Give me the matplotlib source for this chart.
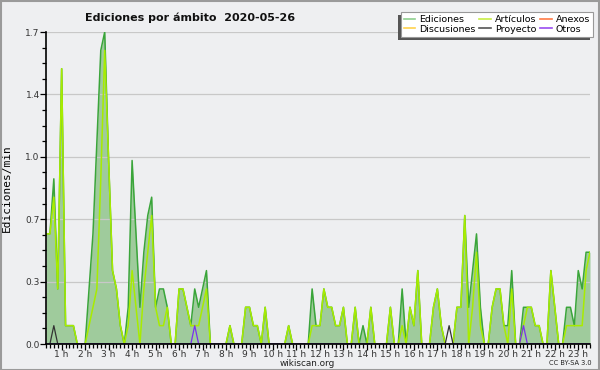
import numpy as np
import matplotlib
matplotlib.use("Agg")
import matplotlib.pyplot as plt
from matplotlib.patches import Rectangle
from matplotlib.lines import Line2D
from matplotlib.ticker import FixedLocator, FuncFormatter

# ---- data (edits per minute, 10-minute bins starting 00:20) ----
start_hour = 20 / 60
bin_minutes = 10

ediciones = [
    0.6, 0.6, 0.9, 0.3, 1.5, 0.1, 0.1, 0.1, 0, 0,
    0, 0.3, 0.6, 1.1, 1.6, 1.7, 1.0, 0.4, 0.3, 0.1,
    0, 0.2, 1.0, 0.6, 0.2, 0.5, 0.7, 0.8, 0.2, 0.3,
    0.3, 0.2, 0, 0, 0.3, 0.3, 0.2, 0.1, 0.3, 0.2,
    0.3, 0.4, 0, 0, 0, 0, 0, 0.1, 0, 0,
    0, 0.2, 0.2, 0.1, 0.1, 0, 0.2, 0, 0, 0,
    0, 0, 0.1, 0, 0, 0, 0, 0, 0.3, 0.1,
    0.1, 0.3, 0.2, 0.2, 0.1, 0.1, 0.2, 0, 0, 0.2,
    0, 0.1, 0, 0.2, 0, 0, 0, 0, 0.2, 0,
    0, 0.3, 0, 0.2, 0.1, 0.4, 0, 0, 0, 0.2,
    0.3, 0.1, 0, 0, 0, 0.2, 0.2, 0.7, 0.2, 0.4,
    0.6, 0.2, 0, 0, 0.2, 0.3, 0.3, 0.1, 0.1, 0.4,
    0, 0, 0.2, 0.2, 0.2, 0.1, 0.1, 0, 0, 0.4,
    0.2, 0, 0, 0.2, 0.2, 0.1, 0.4, 0.3, 0.5, 0.5,
]

articulos = [
    0.6, 0.6, 0.8, 0.3, 1.5, 0.1, 0.1, 0.1, 0, 0,
    0, 0.1, 0.2, 0.3, 0.9, 1.6, 1.0, 0.4, 0.3, 0.1,
    0, 0.1, 0.4, 0.2, 0, 0.3, 0.5, 0.7, 0.2, 0.1,
    0.1, 0.2, 0, 0, 0.3, 0.3, 0.2, 0.1, 0.1, 0.1,
    0.2, 0.3, 0, 0, 0, 0, 0, 0.1, 0, 0,
    0, 0.2, 0.2, 0.1, 0.1, 0, 0.2, 0, 0, 0,
    0, 0, 0.1, 0, 0, 0, 0, 0, 0.1, 0.1,
    0.1, 0.3, 0.2, 0.2, 0.1, 0.1, 0.2, 0, 0, 0.2,
    0, 0, 0, 0.2, 0, 0, 0, 0, 0.2, 0,
    0, 0.1, 0, 0.2, 0.1, 0.4, 0, 0, 0, 0.2,
    0.3, 0.1, 0, 0, 0, 0.2, 0.2, 0.7, 0, 0.2,
    0.5, 0.1, 0, 0, 0.2, 0.3, 0.3, 0.1, 0, 0.3,
    0, 0, 0.1, 0.2, 0.2, 0.1, 0.1, 0, 0, 0.4,
    0.2, 0, 0, 0.1, 0.1, 0.1, 0.1, 0.1, 0.4, 0.5,
]

proyecto = [
    0, 0, 0.1, 0, 0, 0, 0, 0, 0, 0,
    0, 0, 0, 0, 0, 0, 0, 0, 0, 0,
    0, 0, 0, 0, 0, 0, 0, 0, 0, 0,
    0, 0, 0, 0, 0, 0, 0, 0, 0, 0,
    0, 0, 0, 0, 0, 0, 0, 0, 0, 0,
    0, 0, 0, 0, 0, 0, 0, 0, 0, 0,
    0, 0, 0, 0, 0, 0, 0, 0, 0, 0,
    0, 0, 0, 0, 0, 0, 0, 0, 0, 0,
    0, 0, 0, 0, 0, 0, 0, 0, 0, 0,
    0, 0, 0, 0, 0, 0, 0, 0, 0, 0,
    0, 0, 0, 0.1, 0, 0, 0, 0, 0, 0,
    0, 0, 0, 0, 0, 0, 0, 0, 0, 0,
    0, 0, 0, 0, 0, 0, 0, 0, 0, 0,
    0, 0, 0, 0, 0, 0, 0, 0, 0, 0,
]

otros = [
    0, 0, 0, 0, 0, 0, 0, 0, 0, 0,
    0, 0, 0, 0, 0, 0, 0, 0, 0, 0,
    0, 0, 0, 0, 0, 0, 0, 0, 0, 0,
    0, 0, 0, 0, 0, 0, 0, 0, 0.1, 0,
    0, 0, 0, 0, 0, 0, 0, 0, 0, 0,
    0, 0, 0, 0, 0, 0, 0, 0, 0, 0,
    0, 0, 0, 0, 0, 0, 0, 0, 0, 0,
    0, 0, 0, 0, 0, 0, 0, 0, 0, 0,
    0, 0, 0, 0, 0, 0, 0, 0, 0, 0,
    0, 0, 0, 0, 0, 0, 0, 0, 0, 0,
    0, 0, 0, 0, 0, 0, 0, 0, 0, 0,
    0, 0, 0, 0, 0, 0, 0, 0, 0, 0,
    0, 0, 0.1, 0, 0, 0, 0, 0, 0, 0,
    0, 0, 0, 0, 0, 0, 0, 0, 0, 0,
]

hour_ticks = list(range(1, 24))
hour_labels = ["1 h", "2 h", "3 h", "4 h", "5 h", "6 h", "7 h", "8 h", "9 h",
               "10 h", "11 h", "12 h", "13 h", "14 h", "15 h", "16 h", "17 h",
               "18 h", "19 h", "20 h", "21 h", "22 h", "23 h"]
y_max = 1.7

legend_labels = ["Ediciones", "Discusiones", "Artículos", "Proyecto", "Anexos", "Otros"]
legend_colors = ["#8fd08f", "#ffd24d", "#c8ee44", "#555555", "#ff7a45", "#9a4df0"]

# ---- figure ----
W, H = 600, 370
bg = "#eeeff1"
fig = plt.figure(figsize=(W / 100, H / 100), dpi=100, facecolor=bg)

L, R, T, B = 46, 590, 32, 344
ax = fig.add_axes([L / W, 1 - B / H, (R - L) / W, (B - T) / H])
ax.set_facecolor("none")

x = start_hour + np.arange(len(ediciones)) * bin_minutes / 60.0
ed = np.array(ediciones)
ar = np.array(articulos)
pr = np.array(proyecto)
ot = np.array(otros)

ax.fill_between(x, 0, ed, color="#9fcb9c", lw=0, zorder=1)
ax.plot(x, ed, color="#3aa53a", lw=1.1, zorder=2)
ax.plot(x, ar, color="#a8ec00", lw=1.1, zorder=3)
ax.plot(x, pr, color="#333333", lw=0.9, zorder=4)
ax.plot(x, ot, color="#7a2ff0", lw=0.9, zorder=4)

ax.set_xlim(x[0], x[-1])
ax.set_ylim(0, y_max)

# y ticks
majors = [y_max * i / 5 for i in range(6)]
minors = [y_max * i / 20 for i in range(21)]
ax.yaxis.set_major_locator(FixedLocator(majors))
ax.yaxis.set_minor_locator(FixedLocator(minors))
ax.yaxis.set_major_formatter(FuncFormatter(lambda v, p: f"{v:.1f}"))
ax.grid(axis="y", which="major", color="#c8c8c8", lw=0.9, zorder=0)

# x ticks
ax.xaxis.set_major_locator(FixedLocator(hour_ticks))
ax.set_xticklabels(hour_labels)
ax.xaxis.set_minor_locator(FixedLocator(np.arange(0, 24.01, 1 / 6)))

ax.tick_params(axis="both", which="major", direction="out", length=4, width=0.9,
               color="black", labelsize=6.5, labelcolor="#333333", pad=0.5)
ax.tick_params(axis="both", which="minor", direction="out", length=3, width=0.9, color="black")

for s in ["top", "right"]:
    ax.spines[s].set_visible(False)
for s in ["left", "bottom"]:
    ax.spines[s].set_color("black")
    ax.spines[s].set_linewidth(1.2)
    ax.spines[s].set_zorder(6)

ax.set_ylabel("Ediciones/min", fontsize=8, family="DejaVu Sans Mono")
ax.yaxis.set_label_coords(-0.063, 0.5)

# title
fig.text(85 / W, 1 - 18 / H, "Ediciones por ámbito  2020-05-26", fontsize=8,
         fontweight="bold", ha="left", va="center", color="#111111")

# footer
fig.text(307 / W, 1 - 363.5 / H, "wikiscan.org", fontsize=6.4, ha="center", va="center",
         color="#222222")
fig.text(592 / W, 1 - 363 / H, "CC BY-SA 3.0", fontsize=4.8, ha="right", va="center",
         color="#222222")

# legend
handles = [Line2D([0], [0], color=c, lw=1.2) for c in legend_colors]
leg = fig.legend(handles, legend_labels, ncol=3, loc="upper right",
                 bbox_to_anchor=(593 / W, 1 - 12 / H), fontsize=6.8,
                 frameon=True, fancybox=False, handlelength=1.2, handletextpad=0.45,
                 columnspacing=0.4, labelspacing=0.1, borderpad=0.3, borderaxespad=0)
leg.get_frame().set_facecolor("white")
leg.get_frame().set_edgecolor("#999999")
leg.get_frame().set_linewidth(0.8)
leg.get_frame().set_alpha(1)
leg.set_zorder(10)

fig.canvas.draw()
bb = leg.get_window_extent().transformed(fig.transFigure.inverted())
shadow = Rectangle((bb.x0 - 3 / W, bb.y0 - 3 / H), bb.width, bb.height,
                   transform=fig.transFigure, facecolor="#555555", edgecolor="none",
                   zorder=9)
fig.patches.append(shadow)

# outer frame
frame = Rectangle((0.5 / W, 0.5 / H), 1 - 1.5 / W, 1 - 1.5 / H, transform=fig.transFigure,
                  fill=False, edgecolor="#9a9a9a", lw=1.5, zorder=20)
fig.patches.append(frame)

fig.savefig("out.png", dpi=100, facecolor=fig.get_facecolor())
